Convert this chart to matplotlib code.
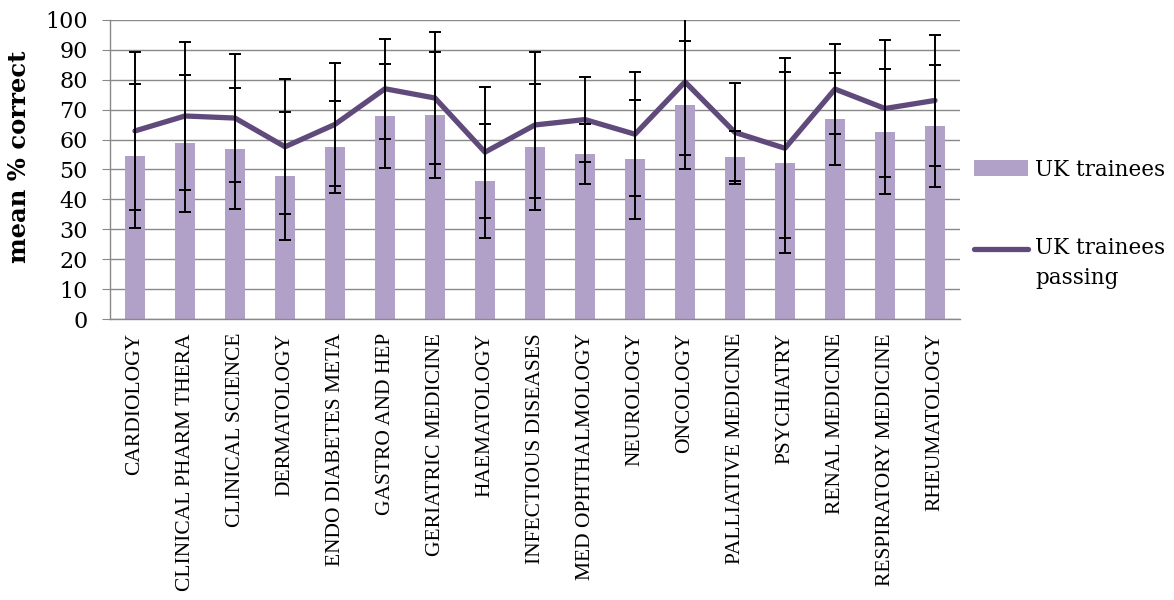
import numpy as np
import matplotlib.pyplot as plt
from matplotlib.patches import Patch
from matplotlib.lines import Line2D
from matplotlib.legend_handler import HandlerLine2D

# categories and values
categories = ["CARDIOLOGY", "CLINICAL PHARM THERA", "CLINICAL SCIENCE", "DERMATOLOGY",
              "ENDO DIABETES META", "GASTRO AND HEP", "GERIATRIC MEDICINE", "HAEMATOLOGY",
              "INFECTIOUS DISEASES", "MED OPHTHALMOLOGY", "NEUROLOGY", "ONCOLOGY",
              "PALLIATIVE MEDICINE", "PSYCHIATRY", "RENAL MEDICINE", "RESPIRATORY MEDICINE",
              "RHEUMATOLOGY"]

# UK trainees (bars) mean and error
all_mean = [54.4, 58.7, 57.0, 47.8, 57.5, 67.8, 68.3, 46.2, 57.4, 55.2, 53.4, 71.6, 54.1, 52.3, 67.0, 62.7, 64.4]
all_err = [24.1, 22.8, 20.2, 21.5, 15.5, 17.4, 21.1, 19.1, 21.1, 9.9, 19.9, 21.5, 8.9, 30.2, 15.4, 20.8, 20.4]

# UK trainees passing (line) mean and error
pass_mean = [62.9, 67.9, 67.2, 57.6, 65.1, 77.0, 73.9, 55.8, 64.9, 66.7, 61.8, 79.3, 62.4, 57.1, 76.9, 70.4, 73.1]
pass_err = [26.3, 24.7, 21.5, 22.6, 20.6, 16.8, 22.2, 21.9, 24.4, 14.3, 20.8, 24.4, 16.4, 30.1, 15.1, 22.8, 21.9]

bar_col = "#B1A0C7"
line_col = "#604A7B"
grid_col = "#898989"


# legend line sits next to the first line of a two-line label
class TopLine(HandlerLine2D):
    def create_artists(self, legend, orig_handle, xdescent, ydescent, width, height,
                       fontsize, trans):
        arts = super().create_artists(legend, orig_handle, xdescent, ydescent, width,
                                      height, fontsize, trans)
        for a in arts:
            a.set_ydata(np.asarray(a.get_ydata()) + 11)
        return arts


fig = plt.figure(figsize=(11.74, 6), dpi=100)
ax = fig.add_axes([110 / 1174, 1 - 319 / 600, 850 / 1174, 299 / 600])

x = np.arange(len(categories))

ax.bar(x, all_mean, width=0.4, color=bar_col, zorder=2)
ax.plot(x, pass_mean, color=line_col, lw=3.8, solid_capstyle="round", zorder=3)
ax.errorbar(x, all_mean, yerr=all_err, fmt="none", ecolor="black", elinewidth=1.4,
            capsize=4.3, capthick=1.4, zorder=4)
ax.errorbar(x, pass_mean, yerr=pass_err, fmt="none", ecolor="black", elinewidth=1.4,
            capsize=4.3, capthick=1.4, zorder=4)

ax.set_xlim(-0.5, len(categories) - 0.5)
ax.set_ylim(0, 100)
ax.set_yticks(range(0, 101, 10))
ax.yaxis.grid(True, color=grid_col, lw=1.0, zorder=0)
ax.set_axisbelow(True)

for s in ["top", "right"]:
    ax.spines[s].set_visible(False)
ax.spines["left"].set_color(grid_col)
ax.spines["bottom"].set_color(grid_col)
ax.spines["left"].set_linewidth(1.0)
ax.spines["bottom"].set_linewidth(1.0)

ax.tick_params(axis="y", length=6, color=grid_col, pad=10, labelsize=16)
for lab in ax.get_yticklabels():
    lab.set_family("DejaVu Serif")
ax.set_xticks(x)
ax.set_xticklabels(categories, rotation=90, va="top", ha="center",
                   family="Liberation Serif", fontsize=15.5)
ax.tick_params(axis="x", length=0, pad=10)

ax.set_ylabel("mean % correct", family="DejaVu Serif", fontweight="bold", fontsize=17.5)
ax.yaxis.set_label_coords(-0.093, 0.543)

handles = [Patch(facecolor=bar_col, edgecolor="none"),
           Line2D([0], [0], color=line_col, lw=3.8, solid_capstyle="round")]
leg = fig.legend(handles, ["UK trainees", "UK trainees\npassing"], loc="center left",
                 bbox_to_anchor=(974 / 1174, 1 - 224 / 600), frameon=False,
                 prop={"family": "DejaVu Serif", "size": 15.5}, handlelength=2.5,
                 handleheight=0.75, handletextpad=0.35, labelspacing=2.6,
                 borderpad=0, borderaxespad=0,
                 handler_map={Line2D: TopLine()})
for t in leg.get_texts():
    t.set_linespacing(1.5)

fig.savefig("out.png", dpi=100)
